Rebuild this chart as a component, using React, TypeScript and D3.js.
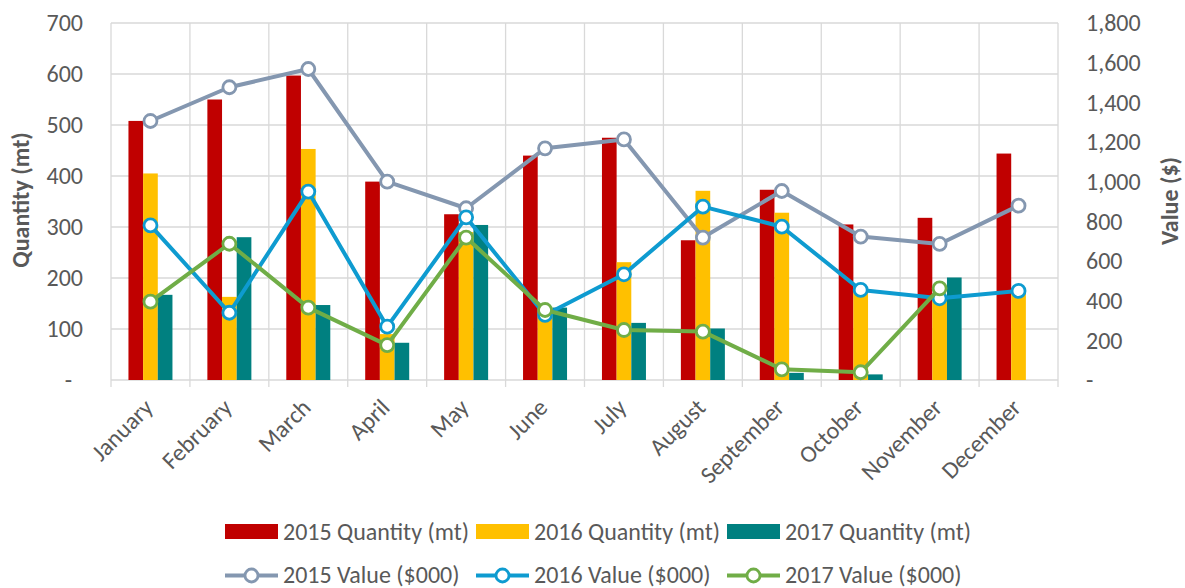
import React from "react";
import * as d3 from "d3";

const months = ["January","February","March","April","May","June","July","August","September","October","November","December"];
const qty2015 = [508, 550, 597, 389, 325, 440, 475, 274, 373, 305, 318, 444];
const qty2016 = [405, 163, 453, 90, 290, 125, 231, 371, 328, 175, 160, 170];
const qty2017: (number | null)[] = [167, 280, 147, 73, 304, 142, 112, 101, 14, 11, 201, null];
const val2015 = [1306, 1476, 1568, 1000, 866, 1168, 1213, 718, 953, 723, 686, 879];
const val2016 = [780, 339, 950, 269, 820, 328, 533, 874, 773, 454, 412, 449];
const val2017: (number | null)[] = [395, 687, 365, 176, 718, 353, 252, 244, 54, 39, 462, null];
const leftTicks = [0, 100, 200, 300, 400, 500, 600, 700];
const rightTicks = [0, 200, 400, 600, 800, 1000, 1200, 1400, 1600, 1800];

const barSeries = [
  { name: "2015 Quantity (mt)", values: qty2015, color: "#C00000" },
  { name: "2016 Quantity (mt)", values: qty2016, color: "#FFC000" },
  { name: "2017 Quantity (mt)", values: qty2017, color: "#008080" },
];
const lineSeries = [
  { name: "2015 Value ($000)", values: val2015, color: "#8497B0" },
  { name: "2016 Value ($000)", values: val2016, color: "#0E9BD0" },
  { name: "2017 Value ($000)", values: val2017, color: "#70AD47" },
];

const FONT = "Carlito, Calibri, Lato, sans-serif";
const TXT = "#595959";
const GRID = "#D9D9D9";
const FS = 24;

export default function App() {
  const W = 1185, H = 588;
  const left = 111, right = 1058, top = 23, bottom = 380;
  const x = d3.scaleBand<string>().domain(months).range([left, right]);
  const inner = d3.scaleBand<string>().domain(barSeries.map(s => s.name)).range([-22, 22]);
  const yL = d3.scaleLinear().domain([0, 700]).range([bottom, top]);
  const yR = d3.scaleLinear().domain([0, 1800]).range([bottom, top]);
  const cx = (m: string) => (x(m) as number) + x.bandwidth() / 2;
  const fmt = (v: number) => (v === 0 ? "-" : d3.format(",")(v));

  const legendX = [225, 476, 727];

  return (
    <svg width={W} height={H} style={{ position: "absolute", left: 0, top: 0, background: "#fff" }} fontFamily={FONT}>
      <rect x={0} y={0} width={W} height={H} fill="#fff" />
      {/* horizontal gridlines */}
      {leftTicks.map(t => (
        <line key={"h" + t} x1={left} x2={right} y1={yL(t)} y2={yL(t)} stroke={GRID} strokeWidth={1.3} />
      ))}
      {/* vertical gridlines / ticks */}
      {d3.range(months.length + 1).map(i => {
        const xx = i < months.length ? (x(months[i]) as number) : right;
        return <line key={"v" + i} x1={xx} x2={xx} y1={top} y2={bottom + 7} stroke={GRID} strokeWidth={1.3} />;
      })}
      {/* left ticks */}
      {leftTicks.map(t => (
        <text key={"l" + t} x={t === 0 ? 72 : 83} y={yL(t)} dy="0.35em" textAnchor="end" fontSize={FS} fill={TXT}>{fmt(t)}</text>
      ))}
      {/* right ticks */}
      {rightTicks.map(t => (
        <text key={"r" + t} x={1086} y={yR(t)} dy="0.35em" textAnchor="start" fontSize={FS} fill={TXT}>{fmt(t)}</text>
      ))}
      {/* axis titles */}
      <text transform={`translate(29,200) rotate(-90)`} textAnchor="middle" fontSize={FS} fontWeight="bold" fill={TXT}>Quantity (mt)</text>
      <text transform={`translate(1178,201) rotate(-90)`} textAnchor="middle" fontSize={FS} fontWeight="bold" fill={TXT}>Value ($)</text>
      {/* bars */}
      {barSeries.map(s => (
        <g key={s.name}>
          {months.map((m, i) => {
            const v = s.values[i];
            if (v == null) return null;
            const bx = cx(m) + (inner(s.name) as number);
            return <rect key={m} x={bx} y={yL(v)} width={inner.bandwidth()} height={yL(0) - yL(v)} fill={s.color} />;
          })}
        </g>
      ))}
      {/* lines */}
      {lineSeries.map(s => {
        const line = d3.line<number | null>()
          .defined(v => v != null)
          .x((_, i) => cx(months[i]))
          .y(v => yR(v as number));
        return (
          <g key={s.name}>
            <path d={line(s.values) || ""} fill="none" stroke={s.color} strokeWidth={4} strokeLinejoin="round" />
            {s.values.map((v, i) => v == null ? null : (
              <circle key={i} cx={cx(months[i])} cy={yR(v)} r={6.5} fill="#fff" stroke={s.color} strokeWidth={2.8} />
            ))}
          </g>
        );
      })}
      {/* x labels */}
      {months.map(m => (
        <text key={m} transform={`translate(${cx(m) + 4},${409}) rotate(-45)`} textAnchor="end" fontSize={FS} fill={TXT}>{m}</text>
      ))}
      {/* legend */}
      {barSeries.map((s, i) => (
        <g key={s.name} transform={`translate(${legendX[i]},531.5)`}>
          <rect x={0} y={-7.5} width={53} height={15} fill={s.color} />
          <text x={58} y={0} dy="0.34em" fontSize={FS} fill={TXT}>{s.name}</text>
        </g>
      ))}
      {lineSeries.map((s, i) => (
        <g key={s.name} transform={`translate(${legendX[i]},575.5)`}>
          <line x1={0} x2={53} y1={0} y2={0} stroke={s.color} strokeWidth={4} />
          <circle cx={26.5} cy={0} r={6.5} fill="#fff" stroke={s.color} strokeWidth={2.8} />
          <text x={58} y={0} dy="0.32em" fontSize={FS} fill={TXT}>{s.name}</text>
        </g>
      ))}
    </svg>
  );
}
